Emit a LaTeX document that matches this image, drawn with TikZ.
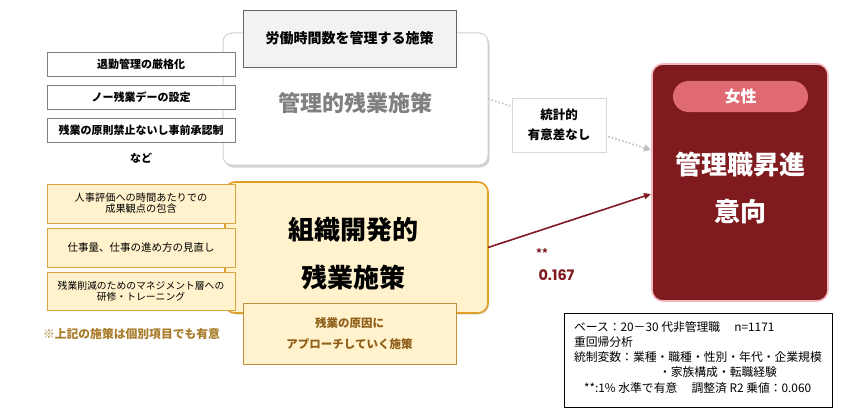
\documentclass[tikz,border=0pt]{standalone}
\usepackage{fontspec}
\setmainfont{Noto Sans CJK JP}
\newfontfamily\numfont{Poppins}
\usetikzlibrary{arrows.meta,shadows}
\definecolor{cream}{HTML}{FFF2CC}
\definecolor{gold}{HTML}{E0A028}
\definecolor{goldlt}{HTML}{D9A441}
\definecolor{goldbr}{HTML}{BF9040}
\definecolor{brownt}{HTML}{8F5F1A}
\definecolor{notet}{HTML}{A87C2A}
\definecolor{darkred}{HTML}{7F1A1F}
\definecolor{pinkb}{HTML}{F2B8BE}
\definecolor{pill}{HTML}{E06A72}
\definecolor{midgray}{HTML}{808080}
\newcommand{\fs}[1]{\fontsize{#1}{#1}\selectfont}
\begin{document}
\begin{tikzpicture}[x=1pt,y=-1pt,
  box/.style={rectangle,inner sep=0pt,outer sep=0pt},
  whitesmall/.style={box,draw=midgray,fill=white,line width=0.8pt,minimum width=188pt},
  creamsmall/.style={box,draw=goldlt,fill=cream,line width=1pt,minimum width=188pt,align=center},
  txt/.style={inner sep=0pt,outer sep=0pt,align=center}
]
\useasboundingbox (0,0) rectangle (865,420);

% management box
\node[box,draw=black!18,fill=white,rounded corners=9pt,line width=1pt,
  minimum width=265pt,minimum height=132pt,
  drop shadow={shadow xshift=1.5pt,shadow yshift=-2.5pt,fill=black!35}] (mgmt) at (355.5,99) {};
\node[txt,text=midgray,font=\fs{22}\bfseries] (mgmtlabel) at (355,103) {管理的残業施策};
\node[box,draw=black!60,fill=black!5,line width=0.8pt,minimum width=213pt,minimum height=57pt,
  font=\fs{14}\bfseries] (title) at (349.5,38.5) {労働時間数を管理する施策};

\node[whitesmall,minimum height=24pt,font=\fs{11}\bfseries] (l1) at (141,64) {退勤管理の厳格化};
\node[whitesmall,minimum height=24pt,font=\fs{11}\bfseries] (l2) at (141,97) {ノー残業デーの設定};
\node[whitesmall,minimum height=24pt,font=\fs{11}\bfseries] (l3) at (141,130) {残業の原則禁止ないし事前承認制};
\node[txt,font=\fs{11}\bfseries] (nado) at (141,158) {など};

% organisational box
\node[box,draw=gold,fill=cream,rounded corners=10pt,line width=1.6pt,
  minimum width=263pt,minimum height=131pt,
  drop shadow={shadow xshift=1pt,shadow yshift=-1.5pt,fill=black!30}] (org) at (356.5,247.5) {};
\node[txt,font=\fs{26}\bfseries] (orglabel1) at (353,230) {組織開発的};
\node[txt,font=\fs{26}\bfseries] (orglabel2) at (353,277) {残業施策};

\node[creamsmall,minimum height=39pt,font=\fs{10.2}] (o1) at (141,203.5) {人事評価への時間あたりでの\\[1pt]成果観点の包含};
\node[creamsmall,minimum height=39pt,font=\fs{10.5}] (o2) at (141,247.5) {仕事量、仕事の進め方の見直し};
\node[creamsmall,minimum height=38pt,font=\fs{9.8}] (o3) at (141,291) {残業削減のためのマネジメント層への\\[1pt]研修・トレーニング};
\node[txt,text=notet,font=\fs{11.8}\bfseries] (note) at (131.5,334) {※上記の施策は個別項目でも有意};

\node[box,draw=goldbr,fill=cream,line width=1pt,minimum width=213pt,minimum height=61pt,
  text=brownt,font=\fs{11.5}\bfseries,align=center] (cause) at (349.5,333.5) {残業の原因に\\[10pt]アプローチしていく施策};

% outcome box
\node[box,draw=pinkb,fill=darkred,rounded corners=11pt,line width=1.6pt,
  minimum width=176pt,minimum height=237pt] (red) at (740,182.5) {};
\node[box,fill=pill,rounded corners=15.5pt,minimum width=135pt,minimum height=31pt,
  text=white,font=\fs{16}\bfseries] (female) at (740.5,96.5) {女性};
\node[txt,text=white,font=\fs{26}\bfseries] (redlabel1) at (740,165) {管理職昇進};
\node[txt,text=white,font=\fs{26}\bfseries] (redlabel2) at (740,212) {意向};

\coordinate (t1) at (651,150);
\coordinate (t2) at (651,194);

% connectors
\draw[black!25,line width=1.6pt,dotted,-{Triangle[length=7pt,width=7pt]}] (mgmt.east) -- (t1);
\node[box,draw=black!15,fill=white,line width=0.8pt,minimum width=94pt,minimum height=54pt,
  font=\fs{12.5}\bfseries,align=center] (stat) at (559,125) {統計的\\[8pt]有意差なし};
\draw[darkred,line width=1.6pt,-{Triangle[length=7pt,width=6pt]}] (org.east) -- (t2);

\node[txt,text=darkred,font=\fs{11}\bfseries] (stars) at (542,253) {**};
\node[txt,text=darkred,font=\numfont\fs{14.5}\bfseries] (coef) at (556.5,275) {0.167};

% notes
\node[box,draw=black,fill=white,line width=0.8pt,minimum width=268pt,minimum height=94pt] (notes) at (698,360) {};
\begin{scope}[every node/.style={txt,anchor=west,font=\fs{11.8}}]
\node (n1) at (574,327.5) {ベース：20－30 代非管理職\hspace{1.2em}n=1171};
\node (n2) at (574,342.5) {重回帰分析};
\node (n3) at (574,357) {統制変数：業種・職種・性別・年代・企業規模};
\node (n4) at (659,372.5) {・家族構成・転職経験};
\node (n5) at (584,388) {**:1\% 水準で有意\hspace{1.2em}調整済 R2 乗値：0.060};
\end{scope}
\end{tikzpicture}
\end{document}
